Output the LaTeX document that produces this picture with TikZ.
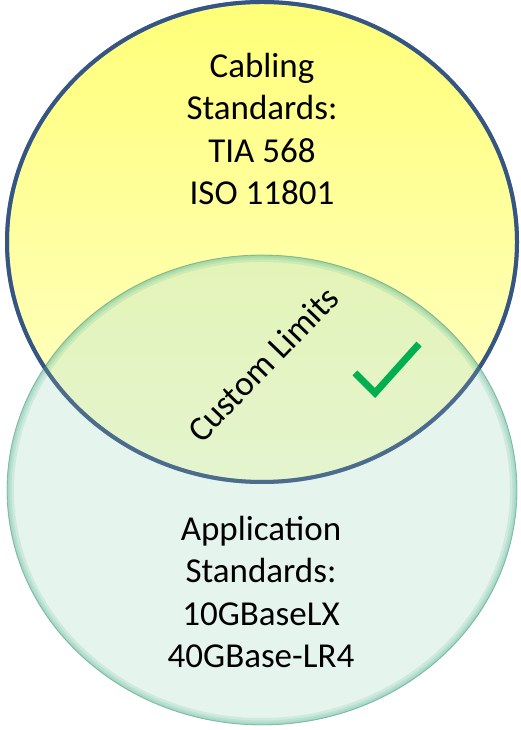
\documentclass[tikz,border=0pt]{standalone}
\usepackage{fontspec}
\setmainfont{Carlito}
\definecolor{ringblue}{RGB}{59,94,145}
\definecolor{cabyellow}{RGB}{255,255,120}
\definecolor{cabpale}{RGB}{255,255,205}
\definecolor{appfill}{RGB}{193,229,210}
\definecolor{appedge}{RGB}{70,175,140}
\definecolor{tickgreen}{RGB}{0,176,80}

\begin{document}
\begin{tikzpicture}[x=1pt,y=1pt,
  stdtext/.style={align=center,text=black,font=\fontsize{35}{42.5}\selectfont}]
  \useasboundingbox (0,0) rectangle (520,730);
  % cabling circle
  \shade[top color=cabyellow,bottom color=cabpale] (262,488) ellipse (255 and 240);
  \draw[ringblue,line width=4pt] (262,488) ellipse (255 and 240);
  % application circle, see-through
  \fill[appfill,fill opacity=0.42] (262,240) ellipse (255 and 235);
  \begin{scope}
    \clip (262,240) ellipse (255 and 235);
    \foreach \w in {14,9,5,2} \draw[appedge,opacity=0.14,line width=\w pt] (262,240) ellipse (255 and 235);
  \end{scope}
  \draw[appedge!70!black,opacity=0.4,line width=0.8pt] (262,240) ellipse (255 and 235);
  \draw[ringblue!85!black,opacity=0.6,line width=4pt] (262,488) ellipse (255 and 240);
  % texts
  \node[stdtext] (cabling) at (262,601) {Cabling\\Standards:\\TIA 568\\ISO 11801};
  \node[stdtext] (application) at (261,138) {Application\\Standards:\\10GBaseLX\\40GBase-LR4};
  \node[stdtext,rotate=46] (custom) at (263,366) {Custom Limits};
  \draw[tickgreen,line width=7pt,miter limit=10] (355,357) -- (375,337) -- (419,386);
\end{tikzpicture}
\end{document}
